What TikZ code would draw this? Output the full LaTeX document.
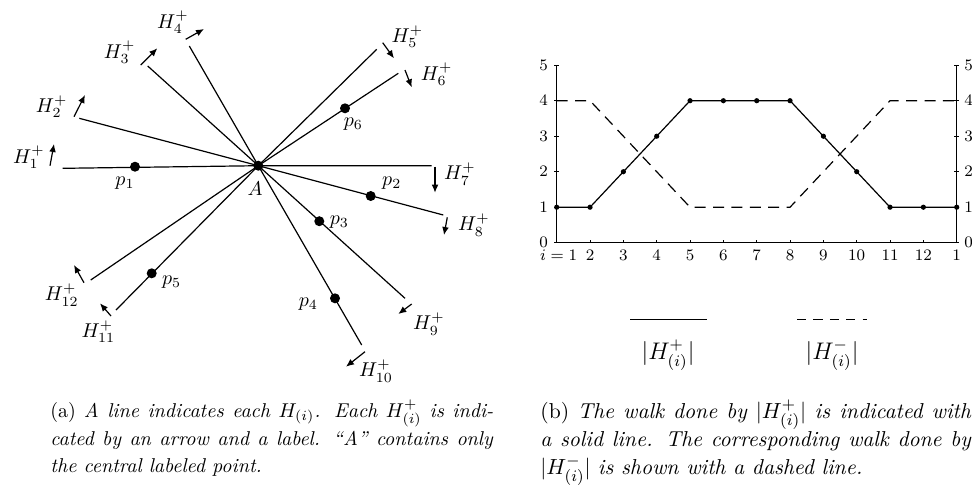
\documentclass[tikz,border=0pt]{standalone}
\usetikzlibrary{arrows.meta}
\begin{document}
\begin{tikzpicture}[x=0.5pt,y=-0.5pt,
  hline/.style={line width=0.6pt},
  harrow/.style={line width=0.6pt,-{Latex[length=4pt,width=3.4pt]}},
  dot/.style={circle,fill,inner sep=0pt,minimum size=5pt},
  lab/.style={font=\fontsize{9.75}{12}\selectfont,inner sep=0pt},
  ticklab/.style={font=\fontsize{8.3}{10}\selectfont,inner sep=0pt},
  cdot/.style={circle,fill,inner sep=0pt,minimum size=2.6pt},
  axisline/.style={line width=0.7pt},
  walk/.style={line width=0.6pt},
  dwalk/.style={line width=0.6pt,dash pattern=on 5.5pt off 3.7pt},
  leg/.style={font=\fontsize{12}{14}\selectfont,inner sep=0pt},
  captxta/.style={font=\fontsize{10}{13.75}\selectfont,inner sep=0pt,anchor=base west},
  captxtb/.style={font=\fontsize{10.8}{13.75}\selectfont,inner sep=0pt,anchor=base west}]
\useasboundingbox (0,0) rectangle (972,495);
% ---------- left diagram ----------
\node[dot] (A) at (258.3,165.7) {};
\coordinate (e1) at (62.7,168.3);
\coordinate (e7) at (431.7,165.7);
\coordinate (e2) at (79.3,118.3);
\coordinate (e8) at (443.3,215);
\coordinate (e3) at (147.7,66);
\coordinate (e9) at (405,298.3);
\coordinate (e4) at (189.3,46);
\coordinate (e10) at (361.7,345);
\coordinate (e5) at (376.7,49.3);
\coordinate (e11) at (116,310);
\coordinate (e6) at (398.3,73.3);
\coordinate (e12) at (90.7,280);
\draw[hline] (e1) -- (A.center) -- (e7);
\draw[hline] (e2) -- (A.center) -- (e8);
\draw[hline] (e3) -- (A.center) -- (e9);
\draw[hline] (e4) -- (A.center) -- (e10);
\draw[hline] (e5) -- (A.center) -- (e11);
\draw[hline] (e6) -- (A.center) -- (e12);
\node[dot] (p1) at (135,166.7) {};
\node[dot] (p2) at (370.7,196) {};
\node[dot] (p3) at (319.3,221.2) {};
\node[dot] (p4) at (335,298.3) {};
\node[dot] (p5) at (151.7,273.3) {};
\node[dot] (p6) at (345,108.3) {};
\node[lab] (lA) at (255,189) {$A$};
\node[lab] (lp1) at (125,183) {$p_1$};
\node[lab] (lp2) at (391.7,183) {$p_2$};
\node[lab] (lp3) at (339.3,222) {$p_3$};
\node[lab] (lp4) at (308.3,304) {$p_4$};
\node[lab] (lp5) at (171.7,282) {$p_5$};
\node[lab] (lp6) at (353.3,124) {$p_6$};
% arrows
\coordinate (a1s) at (50,165.7);   \coordinate (a1e) at (54,144);
\coordinate (a2s) at (74,116.7);   \coordinate (a2e) at (85,95);
\coordinate (a3s) at (140.7,65);   \coordinate (a3e) at (157.3,48.3);
\coordinate (a4s) at (185.7,39.3); \coordinate (a4e) at (204,29);
\coordinate (a5s) at (382.7,42.7); \coordinate (a5e) at (394,58.3);
\coordinate (a6s) at (405,70);     \coordinate (a6e) at (411.7,87.3);
\coordinate (a7s) at (435,166.7);  \coordinate (a7e) at (435,192.7);
\coordinate (a8s) at (447.3,217.3);\coordinate (a8e) at (444,235);
\coordinate (a9s) at (411.7,304);  \coordinate (a9e) at (398.3,314);
\coordinate (a10s) at (365,351.7); \coordinate (a10e) at (346,366.7);
\coordinate (a11s) at (111,316);   \coordinate (a11e) at (100,303.3);
\coordinate (a12s) at (84,282.7);  \coordinate (a12e) at (74,265);
\foreach \k in {1,...,12} {\draw[harrow] (a\k s) -- (a\k e);}
% H labels
\node[lab] (h1) at (28.8,157.5) {$H_{1}^{+}$};
\node[lab] (h2) at (51.7,106.7) {$H_{2}^{+}$};
\node[lab] (h3) at (119.7,52.5) {$H_{3}^{+}$};
\node[lab] (h4) at (173,22.5) {$H_{4}^{+}$};
\node[lab] (h5) at (407.5,36.7) {$H_{5}^{+}$};
\node[lab] (h6) at (436.7,74.5) {$H_{6}^{+}$};
\node[lab] (h7) at (460,174) {$H_{7}^{+}$};
\node[lab] (h8) at (474,225) {$H_{8}^{+}$};
\node[lab] (h9) at (429,324) {$H_{9}^{+}$};
\node[lab] (h10) at (376,371) {$H_{10}^{+}$};
\node[lab] (h11) at (98.3,331.7) {$H_{11}^{+}$};
\node[lab] (h12) at (61.7,295) {$H_{12}^{+}$};
% ---------- right chart ----------
\def\xo{556.7}\def\dx{33.333}\def\yo{242.7}\def\dy{35.5}
\coordinate (o) at (\xo,\yo);
\coordinate (ltop) at (\xo,\yo-5*\dy);
\coordinate (rbot) at (\xo+12*\dx,\yo);
\coordinate (rtop) at (\xo+12*\dx,\yo-5*\dy);
\draw[axisline] (ltop) -- (o) -- (rbot) -- (rtop);
\foreach \v in {0,...,5} {
  \draw[line width=0.5pt] (\xo-2.5,\yo-\v*\dy) -- (\xo+2.5,\yo-\v*\dy);
  \draw[line width=0.5pt] (\xo+12*\dx-2.5,\yo-\v*\dy) -- (\xo+12*\dx+2.5,\yo-\v*\dy);
  \node[ticklab] at (\xo-13,\yo-\v*\dy) {$\v$};
  \node[ticklab] at (\xo+12*\dx+12,\yo-\v*\dy) {$\v$};
}
\foreach \i in {1,...,13} {
  \draw[line width=0.5pt] (\xo+\i*\dx-\dx,\yo) -- (\xo+\i*\dx-\dx,\yo-3);
}
\node[ticklab,anchor=base] at (\xo+2,\yo+17.5) {$i=1$};
\foreach \i/\t in {2/2,3/3,4/4,5/5,6/6,7/7,8/8,9/9,10/10,11/11,12/12,13/1} {
  \node[ticklab,anchor=base] at (\xo+\i*\dx-\dx,\yo+17.5) {$\t$};
}
\draw[walk] (\xo,\yo-\dy)
  \foreach \i/\v in {2/1,3/2,4/3,5/4,6/4,7/4,8/4,9/3,10/2,11/1,12/1,13/1} { -- (\xo+\i*\dx-\dx,\yo-\v*\dy) };
\foreach \i/\v in {1/1,2/1,3/2,4/3,5/4,6/4,7/4,8/4,9/3,10/2,11/1,12/1,13/1} {
  \node[cdot] at (\xo+\i*\dx-\dx,\yo-\v*\dy) {};
}
\draw[dwalk] (\xo,\yo-4*\dy) -- (\xo+\dx,\yo-4*\dy) -- (\xo+4*\dx,\yo-\dy)
  -- (\xo+7*\dx,\yo-\dy) -- (\xo+10*\dx,\yo-4*\dy) -- (\xo+12*\dx,\yo-4*\dy);
% legend
\coordinate (ls1) at (630,319.3); \coordinate (ls2) at (706.7,319.3);
\coordinate (ld1) at (797,319.3); \coordinate (ld2) at (867,319.3);
\draw[walk] (ls1) -- (ls2);
\draw[dwalk,dash pattern=on 4.6pt off 3.6pt] (ld1) -- (ld2);
\node[leg] (lgp) at (668,355) {$|H^{+}_{(i)}|$};
\node[leg] (lgm) at (832,355) {$|H^{-}_{(i)}|$};
% ---------- captions ----------
\node[captxta] (ca1) at (50,417) {\makebox[221.5pt][s]{(a) \textit{A line indicates each} $H_{(i)}$\textit{. Each} $H^{+}_{(i)}$ \textit{is indi-}}};
\node[captxta] (ca2) at (50,445.7) {\makebox[221.5pt][s]{\textit{cated by an arrow and a label. ``A'' contains only}}};
\node[captxta] (ca3) at (50,472.7) {\textit{the central labeled point.}};
\node[captxtb] (cb1) at (540,418.3) {\makebox[215.5pt][s]{(b) \textit{The walk done by} $|H^{+}_{(i)}|$ \textit{is indicated with}}};
\node[captxtb] (cb2) at (540,446.7) {\makebox[215.5pt][s]{\textit{a solid line. The corresponding walk done by}}};
\node[captxtb] (cb3) at (540,474.3) {$|H^{-}_{(i)}|$ \textit{is shown with a dashed line.}};
\end{tikzpicture}
\end{document}
